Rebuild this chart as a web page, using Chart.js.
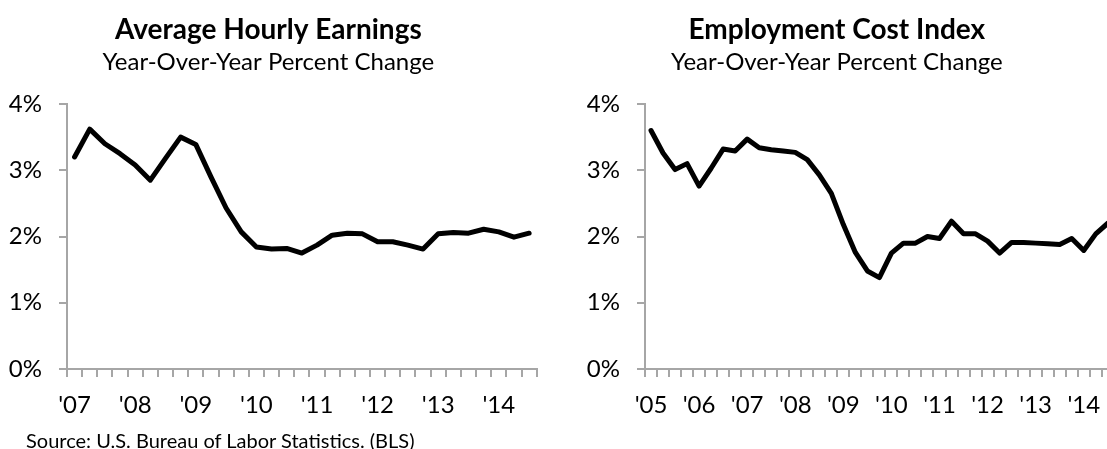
<!DOCTYPE html>
<html>
<head>
<meta charset="utf-8">
<script src="https://cdn.jsdelivr.net/npm/chart.js@4.4.1/dist/chart.umd.min.js"></script>
<style>
  html, body { margin: 0; padding: 0; background: #fff; overflow: hidden; width: 1107px; height: 449px; }
  .box { position: absolute; top: 0; }
  #fuente { position: absolute; left: 26px; top: 428px; font: 20px Lato, sans-serif; color: #000; white-space: nowrap; }
</style>
</head>
<body>
<div class="box" style="left:0;width:552px;height:449px"><canvas id="chartAHE" width="552" height="449"></canvas></div>
<div class="box" style="left:560px;width:590px;height:449px"><canvas id="chartECI" width="590" height="449"></canvas></div>
<div id="fuente">Source: U.S. Bureau of Labor Statistics. (BLS)</div>
<script>
// Datos: variacion interanual trimestral (%)
const aniosAHE = ["'07", "'08", "'09", "'10", "'11", "'12", "'13", "'14"];
const valoresAHE = [3.20, 3.62, 3.40, 3.25, 3.08, 2.85, 3.18, 3.50, 3.39, 2.90, 2.43, 2.07, 1.84, 1.81, 1.82, 1.75,
  1.87, 2.02, 2.05, 2.04, 1.92, 1.92, 1.87, 1.81, 2.04, 2.06, 2.05, 2.11, 2.07, 1.99, 2.05];

const aniosECI = ["'05", "'06", "'07", "'08", "'09", "'10", "'11", "'12", "'13", "'14"];
const valoresECI = [3.60, 3.26, 3.01, 3.10, 2.76, 3.03, 3.32, 3.29, 3.47, 3.34, 3.31, 3.29, 3.27, 3.16, 2.93, 2.65,
  2.18, 1.76, 1.48, 1.38, 1.75, 1.90, 1.90, 2.00, 1.97, 2.23, 2.04, 2.04, 1.93, 1.75, 1.91, 1.91, 1.90, 1.89, 1.88,
  1.97, 1.79, 2.04, 2.20];

const ticksY = [0, 1, 2, 3, 4];

const GRIS = '#a6a6a6';
const FUENTE = 'Lato, sans-serif';

// Etiqueta solo en el primer trimestre de cada anio
function categoriasTrimestrales(anios, n) {
  const cats = [];
  anios.forEach(a => { cats.push(a, '', '', ''); });
  return cats.slice(0, n);
}

function crearGrafico(id, titulo, anios, valores, izq, der) {
  return new Chart(document.getElementById(id), {
    type: 'line',
    data: {
      labels: categoriasTrimestrales(anios, valores.length),
      datasets: [{
        data: valores,
        borderColor: '#000',
        borderWidth: 5,
        pointRadius: 0,
        tension: 0,
        borderJoinStyle: 'round',
        borderCapStyle: 'round',
        clip: false
      }]
    },
    options: {
      responsive: false,
      animation: false,
      layout: { padding: { top: 0, left: 0, right: der, bottom: 30 } },
      plugins: {
        legend: { display: false },
        tooltip: { enabled: false },
        title: {
          display: true,
          text: titulo,
          color: '#000',
          font: { family: FUENTE, size: 28, weight: 'bold', lineHeight: 1.2 },
          padding: { top: 13, bottom: 0 }
        },
        subtitle: {
          display: true,
          text: 'Year-Over-Year Percent Change',
          color: '#000',
          font: { family: FUENTE, size: 24, lineHeight: 1.0 },
          padding: { top: 4, bottom: 29.4 }
        }
      },
      scales: {
        x: {
          offset: true,
          afterFit: s => { s.height = 50; },
          border: { display: true, color: GRIS, width: 2 },
          grid: { offset: true, drawOnChartArea: false, drawTicks: true, tickLength: 8, color: GRIS, lineWidth: 2 },
          ticks: { autoSkip: false, maxRotation: 0, padding: 14, color: '#000', font: { family: FUENTE, size: 24 } }
        },
        y: {
          min: 0,
          max: 4,
          afterFit: s => { s.width = izq; },
          afterBuildTicks: s => { s.ticks = ticksY.map(v => ({ value: v })); },
          border: { display: true, color: GRIS, width: 2 },
          grid: { drawOnChartArea: false, drawTicks: true, tickLength: 8, color: GRIS, lineWidth: 2 },
          ticks: { padding: 17, color: '#000', font: { family: FUENTE, size: 24 }, callback: v => v + '%' }
        }
      }
    }
  });
}

crearGrafico('chartAHE', 'Average Hourly Earnings', aniosAHE, valoresAHE, 67, 15.3);
crearGrafico('chartECI', 'Employment Cost Index', aniosECI, valoresECI, 85, 36.2);
</script>
</body>
</html>
